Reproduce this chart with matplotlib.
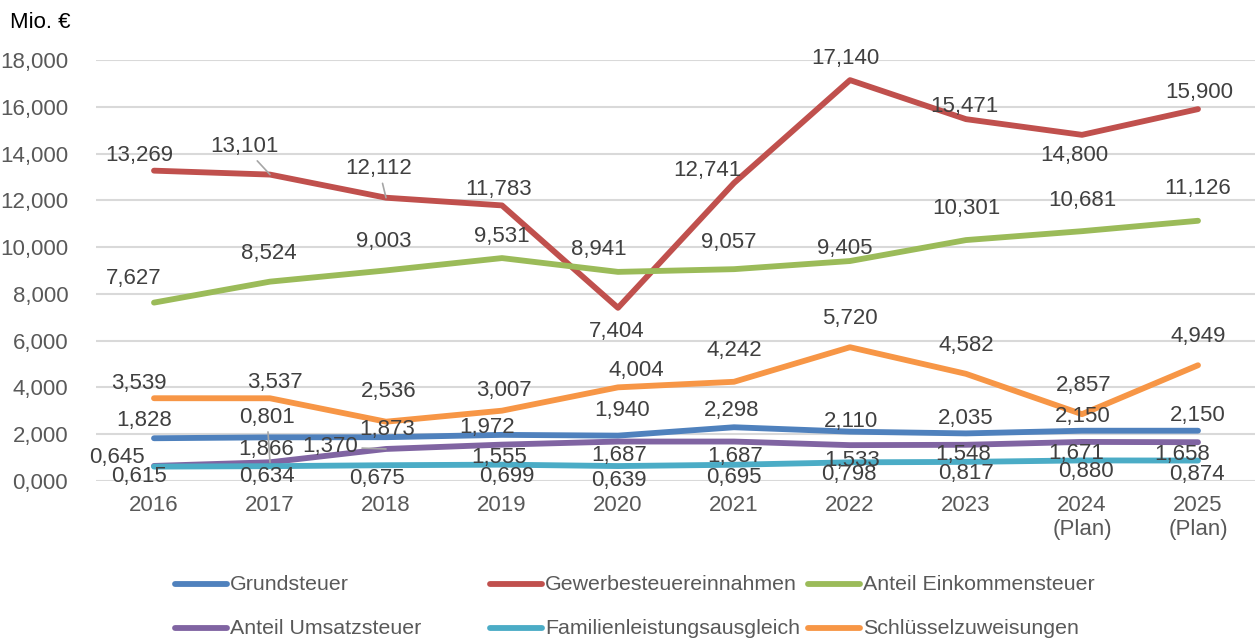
import matplotlib
matplotlib.use("Agg")
import matplotlib.pyplot as plt
from matplotlib.lines import Line2D

plt.rcParams['font.family'] = ['Liberation Sans', 'DejaVu Sans']

years = ['2016', '2017', '2018', '2019', '2020', '2021', '2022', '2023',
         '2024\n(Plan)', '2025\n(Plan)']

grundsteuer = [1.828, 1.866, 1.873, 1.972, 1.940, 2.298, 2.110, 2.035, 2.150, 2.150]
gewerbesteuer = [13.269, 13.101, 12.112, 11.783, 7.404, 12.741, 17.140, 15.471, 14.800, 15.900]
einkommensteuer = [7.627, 8.524, 9.003, 9.531, 8.941, 9.057, 9.405, 10.301, 10.681, 11.126]
umsatzsteuer = [0.645, 0.801, 1.370, 1.555, 1.687, 1.687, 1.533, 1.548, 1.671, 1.658]
familienleistung = [0.615, 0.634, 0.675, 0.699, 0.639, 0.695, 0.798, 0.817, 0.880, 0.874]
schluessel = [3.539, 3.537, 2.536, 3.007, 4.004, 4.242, 5.720, 4.582, 2.857, 4.949]

names = ['Grundsteuer', 'Gewerbesteuereinnahmen', 'Anteil Einkommensteuer',
         'Anteil Umsatzsteuer', 'Familienleistungsausgleich', 'Schlüsselzuweisungen']
series = [grundsteuer, gewerbesteuer, einkommensteuer, umsatzsteuer,
          familienleistung, schluessel]
colors = ['#4F81BD', '#C0504D', '#9BBB59', '#8064A2', '#4BACC6', '#F79646']

# label offsets in pixels (dx, dy) per point, hand placed like the original
offsets = [
    [(-10, 18), (-4, -12), (1, 8), (-15, 7), (4, 25), (-2, 17), (1, 10), (0, 15), (1, 14), (0, 15)],
    [(-15, 15), (-26, 28), (-7, 29), (-3, 16), (-1, -24), (-27, 13), (-5, 22), (-2, 13), (-8, -21), (1, 17)],
    [(-20, 24), (-1, 28), (-2, 29), (0, 22), (-19, 22), (-5, 27), (-5, 13), (0, 32), (0, 31), (0, 32)],
    [(-37, 8), (-3, 45), (-56, 2), (-3, -13), (1, -14), (1, -15), (2, -15), (-3, -10), (-6, -12), (-16, -12)],
    [(-15, -10), (-3, -10), (-9, -13), (5, -12), (1, -14), (0, -13), (-1, -12), (0, -12), (4, -11), (-1, -14)],
    [(-15, 15), (5, 16), (3, 30), (2, 20), (18, 17), (0, 31), (0, 29), (0, 28), (2, 29), (0, 29)],
]
# points that get a grey leader line (series index, point index)
leaders = [(1, 1), (1, 2), (3, 1), (3, 2)]

fig = plt.figure(figsize=(12.55, 6.4), dpi=100)
ax = fig.add_axes([96 / 1255, 159 / 640, 1160 / 1255, 421 / 640])

x = list(range(len(years)))
for k, (vals, col) in enumerate(zip(series, colors)):
    ax.plot(x, vals, color=col, lw=4.2, solid_capstyle='round',
            solid_joinstyle='round', zorder=3)

for k, vals in enumerate(series):
    for i, v in enumerate(vals):
        dx, dy = offsets[k][i]
        txt = f'{v:.3f}'.replace('.', ',')
        kw = {}
        if (k, i) in leaders:
            kw['arrowprops'] = dict(arrowstyle='-', color='#a6a6a6', lw=1.2,
                                    shrinkA=1, shrinkB=0)
        ax.annotate(txt, (i, v), xytext=(dx, dy), textcoords='offset pixels',
                    ha='center', va='center', fontsize=16, color='#404040',
                    zorder=4, **kw)

ax.set_xlim(-0.5, len(years) - 0.5)
ax.set_ylim(0, 18)
ax.set_yticks(range(0, 19, 2))
ax.set_yticklabels([f'{t:.3f}'.replace('.', ',') for t in range(0, 19, 2)])
ax.set_xticks(x)
ax.set_xticklabels(years)
ax.tick_params(length=0, labelsize=16, labelcolor='#595959')
ax.tick_params(axis='y', pad=20)
ax.tick_params(axis='x', pad=10)
ax.grid(axis='y', color='#d9d9d9', lw=1.5, zorder=0)
ax.set_axisbelow(True)
for s in ax.spines.values():
    s.set_visible(False)

fig.text(10 / 1255, 1 - 22 / 640, 'Mio. €', fontsize=16, color='#000000',
         ha='left', va='center')

# legend, three equal columns in two rows
col_x = [175, 490, 808]
row_y = [584, 628]
for n, (name, col) in enumerate(zip(names, colors)):
    r, c = divmod(n, 3)
    xp = col_x[c] / 1255
    yp = 1 - row_y[r] / 640
    fig.add_artist(Line2D([xp, xp + 52 / 1255], [yp, yp], color=col, lw=4.2,
                          solid_capstyle='round', transform=fig.transFigure))
    fig.text(xp + 55 / 1255, yp, name, fontsize=15.4, color='#595959',
             ha='left', va='center')

fig.savefig('out.png', dpi=100)
